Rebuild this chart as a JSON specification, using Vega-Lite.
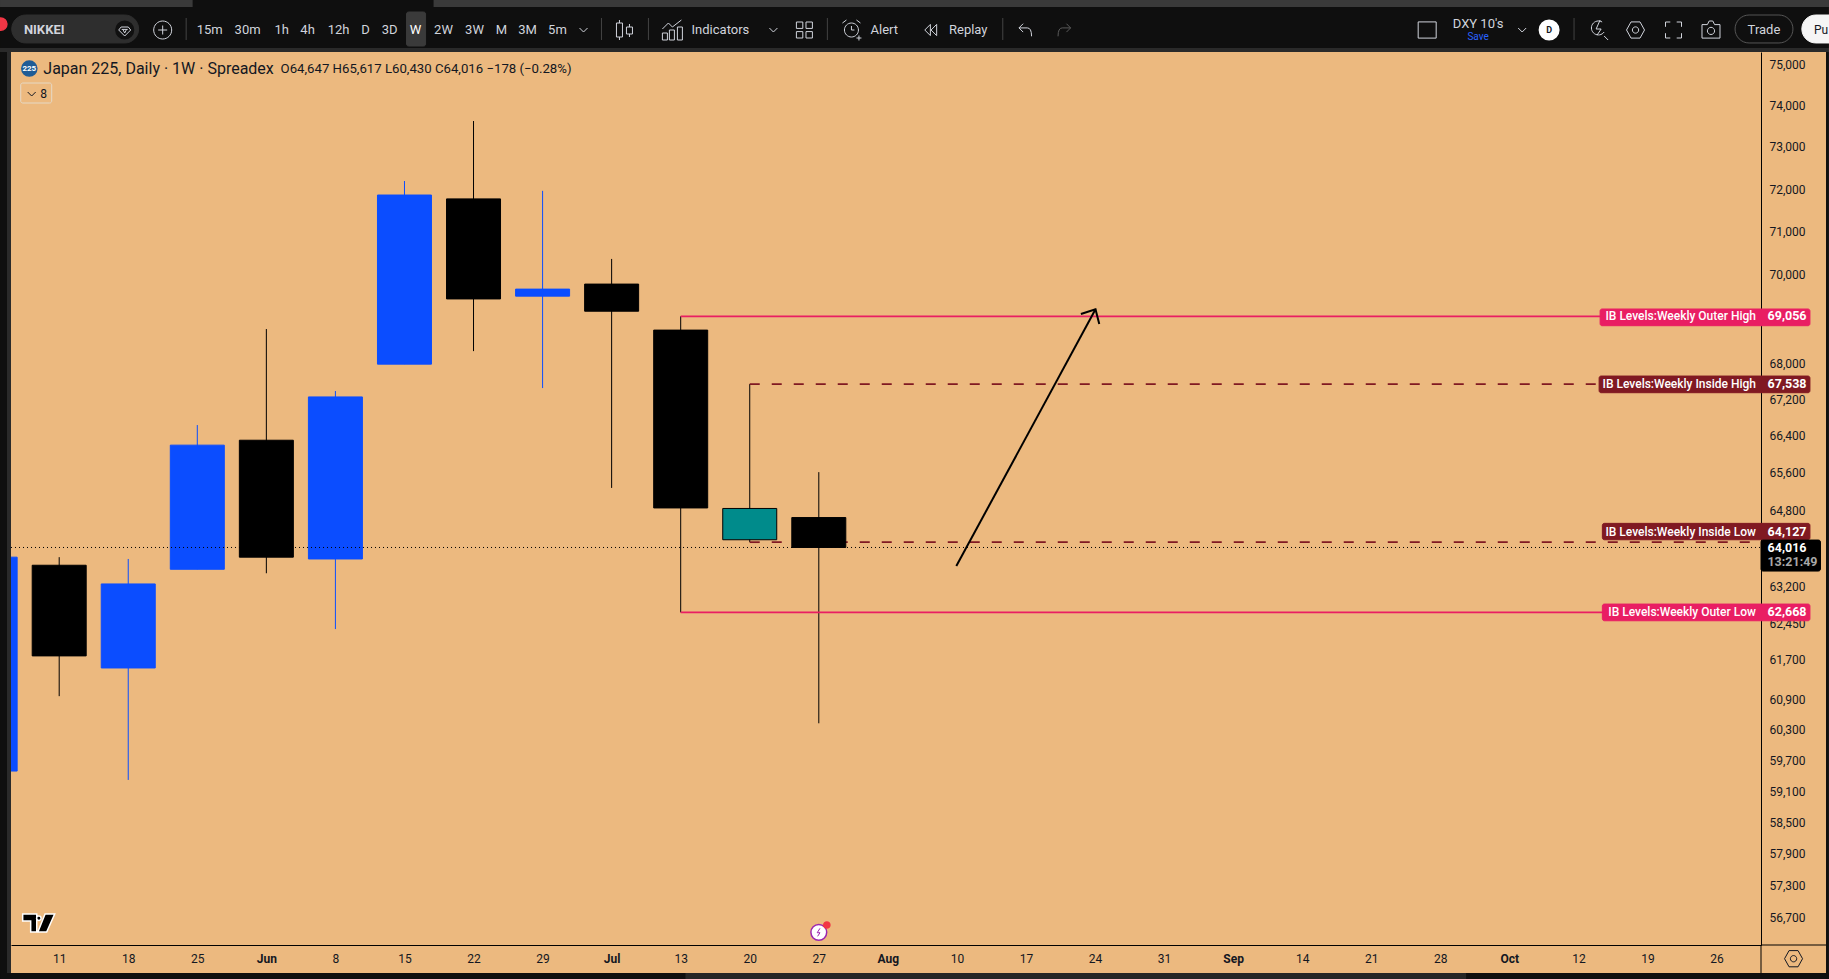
{
"$schema":"https://vega.github.io/schema/vega-lite/v6.json",
"width":1750,"height":893,"autosize":{"type":"none"},
"padding":{"left":11,"top":52,"right":68,"bottom":34},
"background":"#ecb97f",
"config":{"view":{"stroke":null},"font":"Roboto","text":{"font":"Roboto"},
"axisY":{"title":null,"grid":false,"ticks":false,"domainColor":"#000000","domainWidth":1,"labelColor":"#131722","labelFont":"Roboto","labelFontSize":12,"labelPadding":8,"labelFlush":false}},
"datasets":{
"candles":[
{"date":"2026-05-04T00:00:00Z","open":59491,"close":63813,"low":59491,"high":63813,"dir":"up"},
{"date":"2026-05-11T00:00:00Z","open":63644,"close":61780,"low":60970,"high":63813,"dir":"down"},
{"date":"2026-05-18T00:00:00Z","open":61536,"close":63255,"low":59318,"high":63775,"dir":"up"},
{"date":"2026-05-25T00:00:00Z","open":63560,"close":66200,"low":63560,"high":66638,"dir":"up"},
{"date":"2026-06-01T00:00:00Z","open":66307,"close":63813,"low":63477,"high":68769,"dir":"down"},
{"date":"2026-06-08T00:00:00Z","open":63775,"close":67255,"low":62326,"high":67385,"dir":"up"},
{"date":"2026-06-15T00:00:00Z","open":67982,"close":71858,"low":67982,"high":72189,"dir":"up"},
{"date":"2026-06-22T00:00:00Z","open":71767,"close":69451,"low":68273,"high":73623,"dir":"down"},
{"date":"2026-06-29T00:00:00Z","open":69515,"close":69675,"low":67451,"high":71957,"dir":"up"},
{"date":"2026-07-06T00:00:00Z","open":69790,"close":69172,"low":65278,"high":70368,"dir":"down"},
{"date":"2026-07-13T00:00:00Z","open":68745,"close":64851,"low":62668,"high":69056,"dir":"down"},
{"date":"2026-07-20T00:00:00Z","open":64178,"close":64840,"low":64127,"high":67538,"dir":"inside"},
{"date":"2026-07-27T00:00:00Z","open":64647,"close":64016,"low":60430,"high":65617,"dir":"down"}
],
"levels":[
{"date":"2026-07-13T00:00:00Z","date2":"2026-10-30T12:14:00Z","price":69056,"kind":"outer"},
{"date":"2026-07-20T00:00:00Z","date2":"2026-10-30T12:14:00Z","price":67538,"kind":"inside"},
{"date":"2026-07-20T00:00:00Z","date2":"2026-10-30T12:14:00Z","price":64127,"kind":"inside"},
{"date":"2026-07-13T00:00:00Z","date2":"2026-10-30T12:14:00Z","price":62668,"kind":"outer"}
],
"last":[{"date":"2026-05-06T02:45:00Z","date2":"2026-10-30T12:14:00Z","price":64016}],
"arrow":[
{"date":"2026-08-09T22:34:00Z","price":63627,"part":"shaft","ord":1},
{"date":"2026-08-24T01:12:00Z","price":69215,"part":"shaft","ord":2},
{"date":"2026-08-22T13:41:00Z","price":69108,"part":"head","ord":1},
{"date":"2026-08-24T01:12:00Z","price":69215,"part":"head","ord":2},
{"date":"2026-08-24T10:19:00Z","price":68882,"part":"head","ord":3}
],
"frame":[
{"date":"2026-05-05T00:00:00Z","date2":"2026-11-06T09:36:00Z","price":76604,"price2":75407,"role":"frame"},
{"date":"2026-05-05T00:00:00Z","date2":"2026-05-24T12:39:00Z","price":76604,"price2":76428,"role":"tab"},
{"date":"2026-06-17T22:48:00Z","date2":"2026-11-06T09:36:00Z","price":76604,"price2":76428,"role":"tab"},
{"date":"2026-05-05T00:00:00Z","date2":"2026-11-06T09:36:00Z","price":75407,"price2":75308,"role":"gap"},
{"date":"2026-05-05T00:00:00Z","date2":"2026-05-05T17:00:00Z","price":75308,"price2":55567,"role":"frame"},
{"date":"2026-05-05T17:00:00Z","date2":"2026-05-06T02:45:00Z","price":75308,"price2":55567,"role":"gap"},
{"date":"2026-05-05T00:00:00Z","date2":"2026-11-06T09:36:00Z","price":55679,"price2":55567,"role":"frame"},
{"date":"2026-07-13T11:31:00Z","date2":"2026-09-30T14:53:00Z","price":55679,"price2":55567,"role":"patch"},
{"date":"2026-11-06T02:24:00Z","date2":"2026-11-06T09:36:00Z","price":75308,"price2":55567,"role":"frame"}
],
"pills":[
{"date":"2026-05-06T04:29:00Z","date2":"2026-05-19T01:19:00Z","price":76227,"price2":75531,"role":"nikkei"},
{"date":"2026-10-27T21:07:00Z","date2":"2026-11-02T18:00:00Z","price":76227,"price2":75531,"role":"trade"},
{"date":"2026-11-03T15:36:00Z","date2":"2026-11-10T00:00:00Z","price":76227,"price2":75531,"role":"publish"}
],
"boxes":[
{"date":"2026-06-15T05:02:00Z","date2":"2026-06-17T03:22:00Z","price":76302,"price2":75456,"role":"active"},
{"date":"2026-05-07T02:24:00Z","date2":"2026-05-10T05:46:00Z","price":74546,"price2":74059,"role":"eight"},
{"date":"2026-10-14T04:48:00Z","date2":"2026-11-04T11:17:00Z","price":69222,"price2":68844,"role":"outer"},
{"date":"2026-10-14T02:24:00Z","date2":"2026-11-04T11:17:00Z","price":67717,"price2":67348,"role":"inside"},
{"date":"2026-10-14T10:19:00Z","date2":"2026-11-04T11:17:00Z","price":64524,"price2":64178,"role":"inside"},
{"date":"2026-10-14T10:19:00Z","date2":"2026-11-04T11:17:00Z","price":62839,"price2":62496,"role":"outer"},
{"date":"2026-10-30T12:14:00Z","date2":"2026-11-05T12:58:00Z","price":64172,"price2":63523,"role":"last"}
],
"rules":[
{"date":"2026-05-23T20:53:00Z","date2":"2026-05-23T20:53:00Z","price":76152,"price2":75605,"role":"sep"},
{"date":"2026-07-04T23:17:00Z","date2":"2026-07-04T23:17:00Z","price":76152,"price2":75605,"role":"sep"},
{"date":"2026-07-09T17:31:00Z","date2":"2026-07-09T17:31:00Z","price":76152,"price2":75605,"role":"sep"},
{"date":"2026-07-27T20:53:00Z","date2":"2026-07-27T20:53:00Z","price":76152,"price2":75605,"role":"sep"},
{"date":"2026-08-14T15:36:00Z","date2":"2026-08-14T15:36:00Z","price":76152,"price2":75605,"role":"sep"},
{"date":"2026-10-11T13:26:00Z","date2":"2026-10-11T13:26:00Z","price":76152,"price2":75605,"role":"sep"},
{"date":"2026-10-30T12:14:00Z","date2":"2026-10-30T12:14:00Z","price":56193,"price2":55679,"role":"axis"},
{"date":"2026-10-30T12:14:00Z","date2":"2026-11-06T02:24:00Z","price":56193,"price2":56193,"role":"axis"}
],
"discs":[
{"date":"2026-05-05T01:44:00Z","price":76000,"role":"alert"},
{"date":"2026-05-17T15:22:00Z","price":75853,"role":"gem"},
{"date":"2026-10-09T00:43:00Z","price":75853,"role":"account"},
{"date":"2026-05-07T23:17:00Z","price":74900,"role":"badge"},
{"date":"2026-07-27T00:00:00Z","price":56427,"role":"event"},
{"date":"2026-07-27T19:34:00Z","price":56563,"role":"eventdot"}
],
"icons":[
{"date":"2026-05-21T11:46:00Z","price":75853,"icon":"plus","tone":"light"},
{"date":"2026-05-17T15:22:00Z","price":75853,"icon":"gem","tone":"light"},
{"date":"2026-07-03T03:36:00Z","price":75853,"icon":"chevron","tone":"light"},
{"date":"2026-07-07T07:12:00Z","price":75853,"icon":"candles","tone":"light"},
{"date":"2026-07-12T03:50:00Z","price":75853,"icon":"indicators","tone":"light"},
{"date":"2026-07-22T09:36:00Z","price":75853,"icon":"chevron","tone":"light"},
{"date":"2026-07-25T12:58:00Z","price":75853,"icon":"grid","tone":"light"},
{"date":"2026-07-30T07:26:00Z","price":75853,"icon":"alert","tone":"light"},
{"date":"2026-08-07T07:26:00Z","price":75853,"icon":"replay","tone":"light"},
{"date":"2026-08-16T22:19:00Z","price":75853,"icon":"undo","tone":"light"},
{"date":"2026-08-20T21:22:00Z","price":75853,"icon":"redo","tone":"dim"},
{"date":"2026-09-26T16:05:00Z","price":75853,"icon":"square","tone":"light"},
{"date":"2026-10-06T07:12:00Z","price":75853,"icon":"chevron","tone":"light"},
{"date":"2026-10-14T00:00:00Z","price":75853,"icon":"bolt","tone":"light"},
{"date":"2026-10-17T18:58:00Z","price":75853,"icon":"hex","tone":"light"},
{"date":"2026-10-21T15:22:00Z","price":75853,"icon":"fullscreen","tone":"light"},
{"date":"2026-10-25T10:34:00Z","price":75853,"icon":"camera","tone":"light"},
{"date":"2026-11-02T19:26:00Z","price":55941,"icon":"hex","tone":"dark"},
{"date":"2026-05-08T05:02:00Z","price":74278,"icon":"chevron","tone":"dark"},
{"date":"2026-07-27T00:00:00Z","price":56427,"icon":"flash","tone":"purple"}
],
"logo":[{"date":"2026-05-08T22:05:00Z","price":56600}],
"toolText":[
{"date":"2026-05-26T06:00:00Z","price":75853,"text":"15m","role":"tool"},
{"date":"2026-05-30T02:24:00Z","price":75853,"text":"30m","role":"tool"},
{"date":"2026-06-02T13:12:00Z","price":75853,"text":"1h","role":"tool"},
{"date":"2026-06-05T04:19:00Z","price":75853,"text":"4h","role":"tool"},
{"date":"2026-06-08T07:41:00Z","price":75853,"text":"12h","role":"tool"},
{"date":"2026-06-11T01:26:00Z","price":75853,"text":"D","role":"tool"},
{"date":"2026-06-13T11:46:00Z","price":75853,"text":"3D","role":"tool"},
{"date":"2026-06-16T02:53:00Z","price":75853,"text":"W","role":"active"},
{"date":"2026-06-18T23:02:00Z","price":75853,"text":"2W","role":"tool"},
{"date":"2026-06-22T02:24:00Z","price":75853,"text":"3W","role":"tool"},
{"date":"2026-06-24T20:10:00Z","price":75853,"text":"M","role":"tool"},
{"date":"2026-06-27T11:17:00Z","price":75853,"text":"3M","role":"tool"},
{"date":"2026-06-30T12:14:00Z","price":75853,"text":"5m","role":"tool"},
{"date":"2026-07-17T00:43:00Z","price":75853,"text":"Indicators","role":"tool"},
{"date":"2026-08-02T15:22:00Z","price":75853,"text":"Alert","role":"tool"},
{"date":"2026-08-11T03:36:00Z","price":75853,"text":"Replay","role":"tool"},
{"date":"2026-10-01T19:55:00Z","price":76003,"text":"DXY 10's","role":"tool"},
{"date":"2026-10-01T19:55:00Z","price":75679,"text":"Save","role":"save"},
{"date":"2026-10-30T19:26:00Z","price":75853,"text":"Trade","role":"tool"},
{"date":"2026-11-05T14:10:00Z","price":75853,"text":"Pu","role":"dark"},
{"date":"2026-05-09T10:19:00Z","price":74278,"text":"8","role":"dark"}
],
"boldText":[
{"date":"2026-05-09T11:31:00Z","price":75853,"text":"NIKKEI","role":"name"},
{"date":"2026-10-09T00:43:00Z","price":75853,"text":"D","role":"ondisc"},
{"date":"2026-05-07T23:17:00Z","price":74900,"text":"225","role":"badge"},
{"date":"2026-11-02T03:36:00Z","price":69056,"text":"69,056","role":"value"},
{"date":"2026-11-02T03:36:00Z","price":67538,"text":"67,538","role":"value"},
{"date":"2026-11-02T03:36:00Z","price":64351,"text":"64,127","role":"value"},
{"date":"2026-11-02T03:36:00Z","price":62668,"text":"62,668","role":"value"},
{"date":"2026-11-02T03:36:00Z","price":64000,"text":"64,016","role":"value"},
{"date":"2026-11-02T16:48:00Z","price":63717,"text":"13:21:49","role":"timer"}
],
"levelText":[
{"date":"2026-10-30T00:00:00Z","price":69056,"text":"IB Levels:Weekly Outer High"},
{"date":"2026-10-30T00:00:00Z","price":67538,"text":"IB Levels:Weekly Inside High"},
{"date":"2026-10-30T00:00:00Z","price":64351,"text":"IB Levels:Weekly Inside Low"},
{"date":"2026-10-30T00:00:00Z","price":62668,"text":"IB Levels:Weekly Outer Low"}
],
"titleText":[
{"date":"2026-05-09T09:20:00Z","price":74889,"text":"Japan 225, Daily · 1W · Spreadex","role":"title"},
{"date":"2026-06-02T10:34:00Z","price":74889,"text":"O64,647  H65,617  L60,430  C64,016  −178 (−0.28%)","role":"ohlc"}
]
},
"encoding":{
"x":{"field":"date","type":"temporal","title":null,
"scale":{"type":"utc","domain":["2026-05-06T02:45:00Z","2026-10-30T12:14:00Z"],"padding":0},
"axis":{"title":null,"grid":false,"ticks":false,"domainColor":"#000000","domainWidth":1,"labelColor":"#131722","labelFont":"Roboto","labelFontSize":12,"labelPadding":8,"labelOverlap":false,"labelFlush":false,"labelAngle":0,
"values":["2026-05-11T00:00:00Z","2026-05-18T00:00:00Z","2026-05-25T00:00:00Z","2026-06-01T00:00:00Z","2026-06-08T00:00:00Z","2026-06-15T00:00:00Z","2026-06-22T00:00:00Z","2026-06-29T00:00:00Z","2026-07-06T00:00:00Z","2026-07-13T00:00:00Z","2026-07-20T00:00:00Z","2026-07-27T00:00:00Z","2026-08-03T00:00:00Z","2026-08-10T00:00:00Z","2026-08-17T00:00:00Z","2026-08-24T00:00:00Z","2026-08-31T00:00:00Z","2026-09-07T00:00:00Z","2026-09-14T00:00:00Z","2026-09-21T00:00:00Z","2026-09-28T00:00:00Z","2026-10-05T00:00:00Z","2026-10-12T00:00:00Z","2026-10-19T00:00:00Z","2026-10-26T00:00:00Z"],
"labelExpr":"utcdate(datum.value)<=7 ? utcFormat(datum.value,'%b') : utcFormat(datum.value,'%-d')",
"labelFontWeight":{"condition":{"test":"utcdate(datum.value)<=7","value":"bold"},"value":"normal"}}},
"y":{"field":"price","type":"quantitative","title":null,
"scale":{"type":"log","domain":[56193,75308],"nice":false,"zero":false},
"axis":{"orient":"right","labelOverlap":false,"labelExpr":"format(datum.value,',')",
"values":[75000,74000,73000,72000,71000,70000,68000,67200,66400,65600,64800,63200,62450,61700,60900,60300,59700,59100,58500,57900,57300,56700]}}
},
"layer":[
{"data":{"name":"candles"},"mark":{"type":"rule","strokeWidth":1},
"encoding":{"y":{"field":"low","type":"quantitative","title":null,"axis":{"orient":"right","labelOverlap":false,"labelExpr":"format(datum.value,',')","values":[75000,74000,73000,72000,71000,70000,68000,67200,66400,65600,64800,63200,62450,61700,60900,60300,59700,59100,58500,57900,57300,56700]},"scale":{"type":"log","domain":[56193,75308],"nice":false,"zero":false}},"y2":{"field":"high"},
"color":{"field":"dir","type":"nominal","legend":null,"scale":{"domain":["up","down","inside"],"range":["#0b4dff","#000000","#000000"]}}}},
{"data":{"name":"levels"},"mark":{"type":"rule","strokeWidth":1.75},
"encoding":{"x2":{"field":"date2"},
"color":{"field":"kind","type":"nominal","legend":null,"scale":{"domain":["outer","inside"],"range":["#e91e63","#801922"]}},
"strokeDash":{"field":"kind","type":"nominal","legend":null,"scale":{"domain":["outer","inside"],"range":[[1,0],[10,12]]}}}},
{"data":{"name":"candles"},"mark":{"type":"bar","width":54,"strokeWidth":1,"clip":true},
"encoding":{"y":{"field":"open","type":"quantitative","title":null,"axis":{"orient":"right","labelOverlap":false,"labelExpr":"format(datum.value,',')","values":[75000,74000,73000,72000,71000,70000,68000,67200,66400,65600,64800,63200,62450,61700,60900,60300,59700,59100,58500,57900,57300,56700]},"scale":{"type":"log","domain":[56193,75308],"nice":false,"zero":false}},"y2":{"field":"close"},
"fill":{"field":"dir","type":"nominal","legend":null,"scale":{"domain":["up","down","inside"],"range":["#0b4dff","#000000","#008b8b"]}},
"stroke":{"field":"dir","type":"nominal","legend":null,"scale":{"domain":["up","down","inside"],"range":["#0b4dff","#000000","#000000"]}}}},
{"data":{"name":"last"},"mark":{"type":"rule","strokeWidth":1,"color":"#000000","strokeDash":[1,3]},"encoding":{"x2":{"field":"date2"}}},
{"data":{"name":"arrow"},"mark":{"type":"line","color":"#000000","strokeWidth":2},"encoding":{"detail":{"field":"part","type":"nominal"},"order":{"field":"ord","type":"ordinal"}}},
{"data":{"name":"frame"},"mark":{"type":"rect"},
"encoding":{"x2":{"field":"date2"},"y2":{"field":"price2"},
"fill":{"field":"role","type":"nominal","legend":null,"scale":{"domain":["frame","gap","tab","patch"],"range":["#0f0f0f","#2a2a2a","#3a3a3a","#262626"]}}}},
{"data":{"name":"pills"},"mark":{"type":"rect","cornerRadius":14,"strokeWidth":1},
"encoding":{"x2":{"field":"date2"},"y2":{"field":"price2"},
"fill":{"field":"role","type":"nominal","legend":null,"scale":{"domain":["nikkei","trade","publish"],"range":["#2e2e2e","#0f0f0f","#f5f5f5"]}},
"stroke":{"field":"role","type":"nominal","legend":null,"scale":{"domain":["nikkei","trade","publish"],"range":["#2e2e2e","#555555","#f5f5f5"]}}}},
{"data":{"name":"boxes"},"mark":{"type":"rect","cornerRadius":2,"strokeWidth":1},
"encoding":{"x2":{"field":"date2"},"y2":{"field":"price2"},
"fill":{"field":"role","type":"nominal","legend":null,"scale":{"domain":["active","eight","outer","inside","last"],"range":["#3a3a3a","#ecb97f","#e91e63","#801922","#000000"]}},
"stroke":{"field":"role","type":"nominal","legend":null,"scale":{"domain":["active","eight","outer","inside","last"],"range":["#3a3a3a","#e6d9c6","#e91e63","#801922","#000000"]}}}},
{"data":{"name":"rules"},"mark":{"type":"rule","strokeWidth":1},
"encoding":{"x2":{"field":"date2"},"y2":{"field":"price2"},
"color":{"field":"role","type":"nominal","legend":null,"scale":{"domain":["sep","axis"],"range":["#434343","#000000"]}}}},
{"data":{"name":"discs"},"mark":{"type":"point","filled":true,"shape":"circle","strokeWidth":1.5,"opacity":1},
"encoding":{
"fill":{"field":"role","type":"nominal","legend":null,"scale":{"domain":["alert","gem","account","badge","event","eventdot"],"range":["#f23645","#111111","#ffffff","#1f5c96","#ffffff","#f23645"]}},
"stroke":{"field":"role","type":"nominal","legend":null,"scale":{"domain":["alert","gem","account","badge","event","eventdot"],"range":["#f23645","#111111","#ffffff","#1f5c96","#9c27b0","#f23645"]}},
"size":{"field":"role","type":"nominal","legend":null,"scale":{"type":"ordinal","domain":["alert","gem","account","badge","event","eventdot"],"range":[154,314,380,227,250,38]}}}},
{"data":{"name":"icons"},"mark":{"type":"point","filled":false,"strokeWidth":1,"opacity":1},
"encoding":{
"shape":{"field":"icon","type":"nominal","legend":null,"scale":{"domain":["plus","gem","chevron","candles","indicators","grid","alert","replay","undo","redo","square","bolt","hex","fullscreen","camera","flash"],
"range":["M1,0 A1,1 0 1 1 -1,0 A1,1 0 1 1 1,0 M0,-.5 V.5 M-.5,0 H.5","M-.6,-.5 H.6 L1,0 L0,1 L-1,0 Z M-.5,-.1 H.5 M0,.5 L-.3,-.1 M0,.5 L.3,-.1","M-1,-.5 L0,.5 L1,-.5","M-.5,-1 V-.7 M-.5,.7 V1 M-.8,-.7 H-.2 V.7 H-.8 Z M.5,-.6 V-.3 M.5,.4 V.7 M.2,-.3 H.8 V.4 H.2 Z","M-1,1 V.3 H-.5 V1 Z M-.3,1 V0 H.2 V1 Z M.5,1 V-.3 H1 V1 Z M-1,-.1 L-.4,-.7 L0,-.3 L.9,-1","M-1,-1 H-.2 V-.2 H-1 Z M.2,-1 H1 V-.2 H.2 Z M-1,.2 H-.2 V1 H-1 Z M.2,.2 H1 V1 H.2 Z","M.7,0 A.7,.7 0 1 1 -.7,0 A.7,.7 0 1 1 .7,0 M0,-.4 V0 H.3 M-.9,-.7 L-.5,-1 M.9,-.7 L.5,-1 M.5,.8 H1 M.75,.55 V1.05","M0,-.8 L-.8,0 L0,.8 Z M.9,-.8 L.1,0 L.9,.8 Z","M-.3,-.9 L-.9,-.3 L-.3,.3 M-.9,-.3 H.3 Q.9,-.3 .9,.9","M.3,-.9 L.9,-.3 L.3,.3 M.9,-.3 H-.3 Q-.9,-.3 -.9,.9","M-1,-.9 H1 V.9 H-1 Z","M.4,-.8 A.7,.7 0 1 0 .6,.2 M.6,.6 L1,1 M.2,-1 L-.2,-.1 H.3 L-.1,.5","M-.5,-.9 H.5 L1,0 L.5,.9 H-.5 L-1,0 Z M.35,0 A.35,.35 0 1 1 -.35,0 A.35,.35 0 1 1 .35,0","M-1,-.4 V-1 H-.4 M.4,-1 H1 V-.4 M1,.4 V1 H.4 M-.4,1 H-1 V.4","M-1,-.6 H-.4 L-.2,-1 H.2 L.4,-.6 H1 V.9 H-1 Z M.4,.1 A.4,.4 0 1 1 -.4,.1 A.4,.4 0 1 1 .4,.1","M.3,-1 L-.4,.1 H.3 L-.3,1"]}},
"size":{"field":"icon","type":"nominal","legend":null,"scale":{"type":"ordinal","domain":["plus","gem","chevron","candles","indicators","grid","alert","replay","undo","redo","square","bolt","hex","fullscreen","camera","flash"],"range":[324,144,64,400,400,256,400,196,196,196,324,400,324,256,324,64]}},
"stroke":{"field":"tone","type":"nominal","legend":null,"scale":{"domain":["light","dim","dark","purple"],"range":["#d1d4dc","#5a5a5a","#131722","#9c27b0"]}}}},
{"data":{"name":"logo"},"mark":{"type":"point","filled":true,"opacity":1,"fill":"#000000","stroke":"#ffffff","strokeWidth":1.5,"size":1024,"shape":"M-1,-.56 H-.12 V.56 H-.5 V-.12 H-1 Z M.4,-.56 H1 L.5,.56 H-.05 Z M.15,-.3 A.14,.14 0 1 1 -.13,-.3 A.14,.14 0 1 1 .15,-.3"}},
{"data":{"name":"toolText"},"mark":{"type":"text","align":"center","baseline":"middle","font":"Roboto"},
"encoding":{"text":{"field":"text","type":"nominal"},
"color":{"field":"role","type":"nominal","legend":null,"scale":{"domain":["tool","active","save","dark"],"range":["#d1d4dc","#ffffff","#2962ff","#131722"]}},
"size":{"field":"role","type":"nominal","legend":null,"scale":{"type":"ordinal","domain":["tool","active","save","dark"],"range":[13,13,10,12]}}}},
{"data":{"name":"boldText"},"mark":{"type":"text","align":"center","baseline":"middle","font":"Roboto","fontWeight":"bold"},
"encoding":{"text":{"field":"text","type":"nominal"},
"color":{"field":"role","type":"nominal","legend":null,"scale":{"domain":["name","ondisc","badge","value","timer"],"range":["#d1d4dc","#131722","#ffffff","#ffffff","#a8a8a8"]}},
"size":{"field":"role","type":"nominal","legend":null,"scale":{"type":"ordinal","domain":["name","ondisc","badge","value","timer"],"range":[13,9,8,12.5,12.5]}}}},
{"data":{"name":"levelText"},"mark":{"type":"text","align":"right","baseline":"middle","font":"Roboto","fontWeight":500,"fontSize":12,"color":"#ffffff"},
"encoding":{"text":{"field":"text","type":"nominal"}}},
{"data":{"name":"titleText"},"mark":{"type":"text","align":"left","baseline":"middle","font":"Roboto","color":"#131722"},
"encoding":{"text":{"field":"text","type":"nominal"},
"size":{"field":"role","type":"nominal","legend":null,"scale":{"type":"ordinal","domain":["title","ohlc"],"range":[16,13.2]}}}}
],
"resolve":{"scale":{"color":"independent","fill":"independent","stroke":"independent","size":"independent","shape":"independent","strokeDash":"independent"}}
}
